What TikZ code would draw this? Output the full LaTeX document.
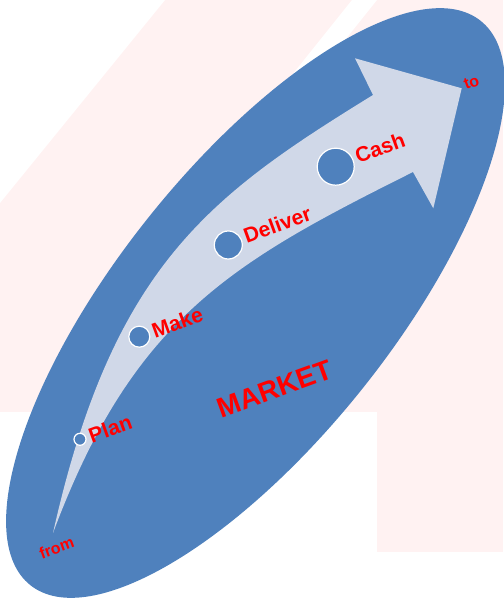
\documentclass[tikz,border=0pt]{standalone}
\usepackage{fontspec}
\setmainfont{Liberation Sans}
\definecolor{mktblue}{HTML}{4F81BD}
\definecolor{arrowc}{HTML}{D0D8E8}
\definecolor{bgpink}{HTML}{FFF2F2}
\begin{document}
\begin{tikzpicture}[x=1pt,y=1pt,
  lbl/.style={text=red, font=\bfseries\fontsize{#1}{#1}\selectfont, rotate=20, anchor=base west, inner sep=0pt},
  lbl/.default=21,
  stage/.style={circle, fill=mktblue, draw=white, line width=1.2pt, inner sep=0pt, minimum size=#1}]
\useasboundingbox (0,0) rectangle (503,599);
% background
\fill[bgpink] (0,187) rectangle (503,599);
\fill[bgpink] (377,47) rectangle (503,599);
\fill[white] (0,599) -- (165,599) -- (0,396) -- cycle;
\fill[white] (352,599) -- (377,599) -- (297,499) -- (272,499) -- cycle;
% market ellipse
\fill[mktblue, rotate around={51.4:(255.5,296)}] (255.5,296) ellipse [x radius=361, y radius=137];
% curved arrow
\coordinate (tail) at (53,66);
\coordinate (neckup) at (373,504);
\coordinate (barbup) at (355,540.7);
\coordinate (tip) at (461.7,510.7);
\coordinate (barblo) at (433.3,390.7);
\coordinate (necklo) at (413,427);
\fill[arrowc] (tail) .. controls (113,334.4) and (211.3,404.3) .. (neckup)
  -- (barbup) -- (tip) -- (barblo) -- (necklo)
  .. controls (234.2,337.6) and (133.5,282.2) .. (tail) -- cycle;
% stages
\node[stage=12pt] (plan) at (80,159.7) {};
\node[stage=21pt] (make) at (139.3,262.3) {};
\node[stage=28pt] (deliver) at (228.3,354) {};
\node[stage=37pt] (cash) at (335.7,432.3) {};
\node[lbl] (planl) at (91.7,155.7) {Plan};
\node[lbl] (makel) at (155,260.7) {Make};
\node[lbl] (deliverl) at (246.7,355.7) {Deliver};
\node[lbl] (cashl) at (358.3,435.7) {Cash};
\node[lbl=28] (market) at (221.7,180.7) {MARKET};
\node[lbl=16] (from) at (41.7,39.7) {from};
\node[lbl=16] (to) at (466,509) {to};
\end{tikzpicture}
\end{document}
